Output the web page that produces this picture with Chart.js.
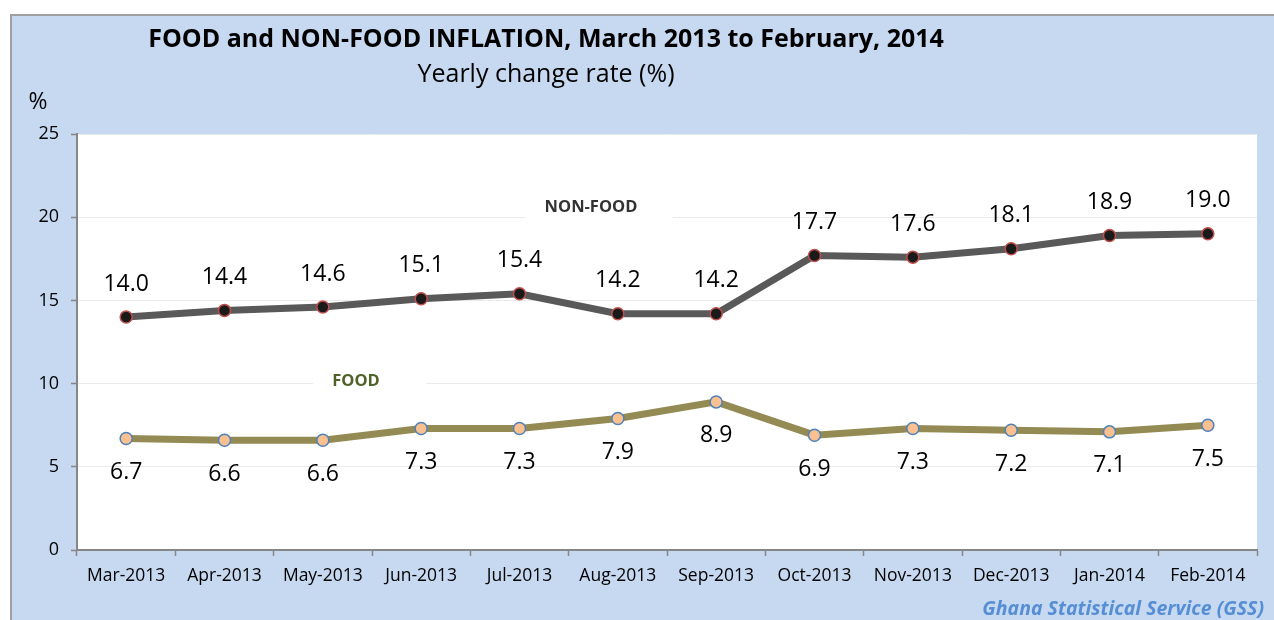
<!DOCTYPE html>
<html>
<head>
<meta charset="utf-8">
<script src="https://cdn.jsdelivr.net/npm/chart.js@4"></script>
<style>
  body { margin: 0; background: #fff; }
  #container { width: 1274px; height: 620px; position: relative; }
</style>
</head>
<body>
<div id="container"><canvas id="ChartInflacion"></canvas></div>
<script>
// Datos de la grafica
const meses = ["Mar-2013", "Apr-2013", "May-2013", "Jun-2013", "Jul-2013", "Aug-2013",
  "Sep-2013", "Oct-2013", "Nov-2013", "Dec-2013", "Jan-2014", "Feb-2014"];
const nonFood = [14.0, 14.4, 14.6, 15.1, 15.4, 14.2, 14.2, 17.7, 17.6, 18.1, 18.9, 19.0];
const food = [6.7, 6.6, 6.6, 7.3, 7.3, 7.9, 8.9, 6.9, 7.3, 7.2, 7.1, 7.5];
const yTicks = [0, 5, 10, 15, 20, 25];

const fontFam = "'Open Sans', 'Noto Sans', sans-serif";

// Fondo azul, titulos y fuente
const marcoPlugin = {
  id: "marco",
  beforeDraw(chart) {
    const ctx = chart.ctx;
    const a = chart.chartArea;
    ctx.save();
    ctx.fillStyle = "#C6D9F1";
    ctx.fillRect(10, 14, chart.width - 10, chart.height - 14);
    ctx.strokeStyle = "#A0A0A0";
    ctx.lineWidth = 2;
    ctx.beginPath();
    ctx.moveTo(11, chart.height);
    ctx.lineTo(11, 15);
    ctx.lineTo(chart.width, 15);
    ctx.stroke();
    ctx.fillStyle = "#fff";
    ctx.fillRect(a.left, a.top, a.right - a.left, a.bottom - a.top);

    ctx.fillStyle = "#000";
    ctx.textAlign = "center";
    ctx.textBaseline = "middle";
    ctx.font = "bold 25px " + fontFam;
    ctx.fillText("FOOD and NON-FOOD INFLATION, March 2013 to February, 2014", 546, 40);
    ctx.font = "25px " + fontFam;
    ctx.fillText("Yearly change rate (%)", 546, 75);
    ctx.font = "23px " + fontFam;
    ctx.fillText("%", 38, 102);

    ctx.textAlign = "right";
    ctx.fillStyle = "#558ED5";
    ctx.font = "italic bold 19.5px " + fontFam;
    ctx.fillText("Ghana Statistical Service (GSS)", 1264, 609);
    ctx.restore();
  },
  beforeDatasetsDraw(chart) {
    // Etiquetas de serie con fondo blanco sobre la grilla
    const ctx = chart.ctx;
    ctx.save();
    ctx.font = "bold 16.5px " + fontFam;
    ctx.textAlign = "center";
    ctx.textBaseline = "middle";
    ctx.fillStyle = "#fff";
    ctx.fillRect(525, 196, 148, 24);
    ctx.fillRect(313, 370, 113, 24);
    ctx.fillStyle = "#333333";
    ctx.fillText("NON-FOOD", 591, 207);
    ctx.fillStyle = "#4F6228";
    ctx.fillText("FOOD", 356, 381);
    ctx.restore();
  },
  afterDatasetsDraw(chart) {
    // Valores sobre y debajo de cada punto
    const ctx = chart.ctx;
    ctx.save();
    ctx.font = "23px " + fontFam;
    ctx.fillStyle = "#000";
    ctx.textAlign = "center";
    ctx.textBaseline = "middle";
    chart.data.datasets.forEach((ds, i) => {
      const meta = chart.getDatasetMeta(i);
      const desp = i === 0 ? -33 : 34;
      meta.data.forEach((pt, j) => {
        ctx.fillText(ds.data[j].toFixed(1), pt.x, pt.y + desp);
      });
    });
    ctx.restore();
  },
};

const ctx = document.getElementById("ChartInflacion");

new Chart(ctx, {
  type: "line",
  data: {
    labels: meses,
    datasets: [
      {
        label: "NON-FOOD",
        data: nonFood,
        borderColor: "#595959",
        borderWidth: 7,
        pointBackgroundColor: "#1A1A1A",
        pointBorderColor: "#C0504D",
        pointBorderWidth: 1.5,
        pointRadius: 6,
        tension: 0,
      },
      {
        label: "FOOD",
        data: food,
        borderColor: "#948A54",
        borderWidth: 7,
        pointBackgroundColor: "#FAC090",
        pointBorderColor: "#4F81BD",
        pointBorderWidth: 1.5,
        pointRadius: 6,
        tension: 0,
      },
    ],
  },
  options: {
    responsive: true,
    maintainAspectRatio: false,
    animation: false,
    layout: { padding: { left: 0, top: 134, right: 17, bottom: 0 } },
    plugins: {
      legend: { display: false },
      tooltip: { enabled: false },
      title: { display: false },
    },
    scales: {
      x: {
        offset: true,
        afterFit(scale) { scale.height = 70; },
        grid: {
          offset: true,
          drawOnChartArea: false,
          tickLength: 6,
          tickColor: "#868686",
          tickWidth: 1.5,
        },
        border: { color: "#868686", width: 2 },
        ticks: { color: "#000", font: { size: 17.5, family: fontFam }, padding: 10, maxRotation: 0 },
      },
      y: {
        min: 0,
        max: 25,
        afterFit(scale) { scale.width = 77; },
        afterBuildTicks(scale) { scale.ticks = yTicks.map((v) => ({ value: v })); },
        grid: {
          color: "#EAEAEA",
          tickColor: "#868686",
          tickLength: 6,
          tickWidth: 1.5,
        },
        border: { color: "#868686", width: 2 },
        ticks: { color: "#000", font: { size: 18, family: fontFam }, padding: 12 },
      },
    },
  },
  plugins: [marcoPlugin],
});
</script>
</body>
</html>
